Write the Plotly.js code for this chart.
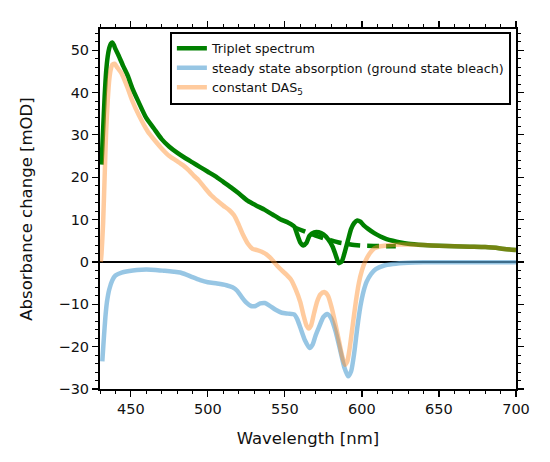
<!DOCTYPE html>
<html>
<head>
<meta charset="utf-8">
<script src="https://cdn.plot.ly/plotly-3.0.1.min.js"></script>
<style>html,body{margin:0;padding:0;background:#fff;}#chart{width:550px;height:462px;}</style>
</head>
<body>
<div id="chart"></div>
<script>
// Triplet spectrum (green, solid)
const tripletX = [431,432,433,434,435,436,437,438,439,440,442,445,448,451,455,460,465,470,475,480,485,490,495,500,505,510,515,520,526,531,537,542,547,552,556,558,560,562,564,566,569,572,575,578,581,583,585,587,589,591,593,595,597,599,601,604,608,612,616,620,625,630,640,650,660,670,680,690,700];
const tripletY = [23,31,39,45,48.5,50.5,51.5,51.8,51.2,50.3,48.8,46.3,44,41,37.8,34,31.5,29,27.2,25.8,24.6,23.5,22.4,21.3,20.2,18.9,17.6,16.2,14.4,13.4,12.3,11.2,10.1,9.3,8.4,6.5,4.6,3.9,4.5,6.2,7,7,6.5,5.4,3.6,1.6,-0.3,0.2,2.5,5.2,7.8,9.2,9.8,9.5,8.7,7.8,6.8,6,5.4,5,4.6,4.3,4,3.8,3.7,3.6,3.5,3.2,2.8];

// Triplet baseline (green, dashed)
const baseX = [556,560,565,570,575,580,585,590,595,600,610,622];
const baseY = [8.2,7.6,6.9,6.2,5.6,5.1,4.6,4.3,4.0,3.85,3.75,3.7];

// Steady state absorption (ground state bleach) (blue)
const steadyX = [431.5,432.5,433.5,434.5,436,438,440,444,448,454,460,466,472,478,482,486,490,495,500,506,512,516,519,522,525,528,531,534,537,540,544,548,552,556,558,560,563,566,568,570,572,575,577.5,580,583,586,588.5,591,593,595,597,599,601,603,606,609,614,620,630,640,700];
const steadyY = [-23.5,-18,-13,-9.5,-6.5,-4.3,-3.2,-2.5,-2.2,-1.9,-1.8,-1.9,-2.1,-2.3,-2.5,-3,-3.6,-4.3,-4.8,-5.1,-5.5,-6,-6.8,-8.3,-9.6,-10.4,-10.4,-9.8,-9.7,-10.3,-11.3,-12,-12.2,-12.4,-13.5,-15.5,-18.5,-20.3,-19.5,-17.3,-15.5,-13,-12.3,-13.3,-16.5,-21,-24.8,-27,-25.8,-21.5,-15.5,-10.5,-7,-4.7,-2.8,-1.7,-0.9,-0.5,-0.2,-0.1,-0.1];

// constant DAS5 (orange)
const dasX = [430.5,431,432,433,434,435,436,437,438,439.5,441,444,448,451,455,461,466,470,475,480,484,488,491,494,498,502,506,510,514,517,520,523,526,529,532,535,538,541,545,548,551,554,557,560,562,564,565.5,567,569,571,573,575.5,578,580.5,583,585,587,589,590.5,592,594,596,598,600,602,605,608,612,616,620,625,630,640,650,660,670,680,690,700];
const dasY = [0,2,9,20,31,38,43,45.5,46.6,46.8,46,44.5,41,38,34.8,30.8,28.5,26.8,25,23.8,22.8,21.5,20.3,19.3,17.5,15.8,14.5,13.3,12.2,11,8.8,6.3,4.3,3.1,2.8,2.4,1.8,0.8,-0.9,-2,-3,-4.2,-6.5,-9.5,-12.5,-15,-15.7,-15,-12,-9.3,-7.7,-7.1,-8,-11,-15,-18.5,-22,-24.3,-23.5,-20.5,-15,-9.5,-5,-2,0,2,3.2,3.7,3.9,4,4.1,4.1,4,3.8,3.7,3.6,3.5,3.2,2.8];

const names = ['Triplet spectrum', 'steady state absorption (ground state bleach)', 'constant DAS<sub>5</sub>'];

const traces = [
  {x: tripletX, y: tripletY, mode: 'lines', name: names[0],
   line: {color: '#008000', width: 4.5, shape: 'spline', smoothing: 0.6}},
  {x: baseX, y: baseY, mode: 'lines', showlegend: false,
   line: {color: '#008000', width: 4.5, dash: '12px,7px', shape: 'spline'}},
  {x: steadyX, y: steadyY, mode: 'lines', name: names[1],
   line: {color: 'rgba(95,168,214,0.65)', width: 4.5, shape: 'spline', smoothing: 0.6}},
  {x: dasX, y: dasY, mode: 'lines', name: names[2],
   line: {color: 'rgba(255,140,40,0.45)', width: 4.5, shape: 'spline', smoothing: 0.6}}
];

const axisCommon = {
  showline: true, linecolor: 'black', linewidth: 2, mirror: 'allticks',
  ticks: 'outside', ticklen: 6, tickwidth: 1.2, tickcolor: 'black',
  showgrid: false,
  tickfont: {family: 'DejaVu Sans', size: 14.5, color: '#111'},
};

const layout = {
  width: 550, height: 462,
  margin: {l: 100, r: 34, t: 29, b: 73},
  paper_bgcolor: 'white', plot_bgcolor: 'white',
  showlegend: true,
  font: {family: 'DejaVu Sans', color: '#111'},
  xaxis: Object.assign({}, axisCommon, {
    range: [430, 700], tick0: 450, dtick: 50, zeroline: false,
    minor: {ticks: 'outside', ticklen: 3, dtick: 10, tick0: 430, tickcolor: 'black', tickwidth: 1},
    title: {text: 'Wavelength [nm]', font: {family: 'DejaVu Sans', size: 16.5, color: '#111'}, standoff: 16}
  }),
  yaxis: Object.assign({}, axisCommon, {
    range: [-30, 55], tick0: 0, dtick: 10,
    zeroline: true, zerolinecolor: 'black', zerolinewidth: 1.6,
    minor: {ticks: 'outside', ticklen: 3, dtick: 2, tick0: 0, tickcolor: 'black', tickwidth: 1},
    title: {text: 'Absorbance change [mOD]', font: {family: 'DejaVu Sans', size: 16.5, color: '#111'}, standoff: 22}
  }),
  legend: {
    x: 0.168, y: 0.993, xanchor: 'left', yanchor: 'top',
    bgcolor: 'white', bordercolor: 'black', borderwidth: 2,
    font: {family: 'DejaVu Sans', size: 12.7, color: '#111'},
    tracegroupgap: 0, itemwidth: 30
  }
};

Plotly.newPlot('chart', traces, layout, {displayModeBar: false, staticPlot: true});
</script>
</body>
</html>
